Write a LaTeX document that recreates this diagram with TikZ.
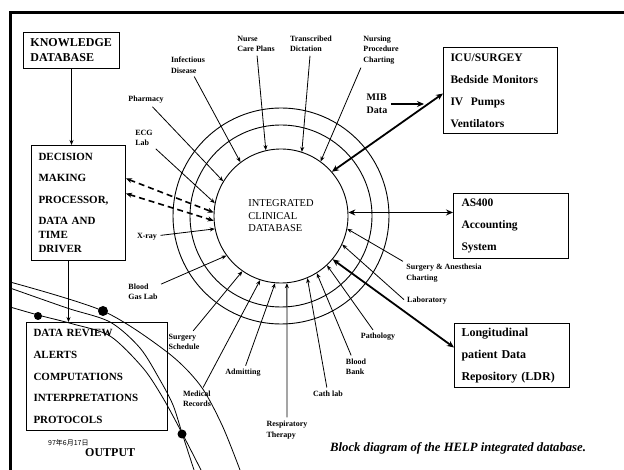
\documentclass[tikz,border=0pt]{standalone}
\usepackage{fontspec}
\setmainfont{Liberation Serif}
\newfontfamily\cjk{Noto Sans CJK SC}
\usetikzlibrary{arrows.meta,positioning,calc}

\begin{document}
\begin{tikzpicture}[
  x=1pt, y=-1pt,
  >={Stealth[length=5pt,width=4pt]},
  box/.style={draw, line width=1pt, anchor=north west, align=left, inner xsep=7pt, inner ysep=0pt,
              font=\fontsize{11.5}{22}\selectfont\bfseries},
  lbl/.style={align=left, inner sep=1.5pt, font=\fontsize{8}{10.5}\selectfont\bfseries},
  spoke/.style={->, line width=0.8pt, shorten <=2pt},
  bigarrow/.style={<->, line width=1.8pt, >={Stealth[length=7pt,width=6pt]}},
  dasharrow/.style={<->, line width=1.6pt, dash pattern=on 6pt off 4pt, >={Stealth[length=6pt,width=5pt]}},
  ring/.style={line width=0.9pt},
  globe/.style={line width=0.8pt}
]
  \useasboundingbox (0,0) rectangle (624,470);
  \draw[line width=3pt] (624,13) -- (10,13) -- (10,470);

  % boxes
  \node[box, font=\fontsize{12}{15}\selectfont\bfseries, text width=82pt, minimum height=36pt] (kb) at (23,32) {KNOWLEDGE\\DATABASE};
  \node[box, font=\fontsize{11}{14}\selectfont\bfseries, text width=80pt, minimum height=115pt] (dm) at (31,145)
    {DECISION\\[7.5pt]MAKING\\[7.5pt]PROCESSOR,\\[7.5pt]DATA AND\\TIME\\DRIVER};
  \node[box, font=\fontsize{11}{21.7}\selectfont\bfseries, text width=127pt, minimum height=108pt] (dr) at (26,322)
    {DATA REVIEW\\ALERTS\\COMPUTATIONS\\INTERPRETATIONS\\PROTOCOLS};
  \node[box, text width=100pt, minimum height=86pt] (icu) at (443,47) {ICU/SURGEY\\Bedside Monitors\\IV~~Pumps\\Ventilators};
  \node[box, inner xsep=8pt, text width=99pt, minimum height=65pt] (as) at (453,193) {AS400\\Accounting\\System};
  \node[box, font=\fontsize{12}{22}\selectfont\bfseries, text width=101pt, minimum height=64pt] (ldr) at (454,323)
    {Longitudinal\\patient Data\\Repository (LDR)};

  % central database and rings
  \node[circle, draw, line width=0.9pt, minimum size=134pt, inner sep=0pt, align=left,
        font=\fontsize{10.5}{12.5}\selectfont] (db) at (281,216) {INTEGRATED\\CLINICAL\\DATABASE};
  \draw[ring] (db.center) circle[radius=91pt];
  \draw[ring] (db.center) circle[radius=108pt];

  % sources around the ring
  \node[lbl] (inf) at (188,65) {Infectious\\Disease};
  \node[lbl] (phar) at (146,100) {Pharmacy};
  \node[lbl] (ecg) at (144,138) {ECG\\Lab};
  \node[lbl] (xray) at (147,237) {X-ray};
  \node[lbl] (bgas) at (143,292) {Blood\\Gas Lab};
  \node[lbl] (ssch) at (184,342) {Surgery\\Schedule};
  \node[lbl] (mrec) at (197,399) {Medical\\Records};
  \node[lbl] (adm) at (243,373) {Admitting};
  \node[lbl] (resp) at (287,430) {Respiratory\\Therapy};
  \node[lbl] (cath) at (328,394) {Cath lab};
  \node[lbl] (bbank) at (356,367) {Blood\\Bank};
  \node[lbl] (path) at (378,337) {Pathology};
  \node[lbl] (labo) at (427,301) {Laboratory};
  \node[lbl] (sach) at (444,273) {Surgery \& Anesthesia\\Charting};
  \node[lbl] (ncp) at (256,44) {Nurse\\Care Plans};
  \node[lbl] (tdic) at (311,44) {Transcribed\\Dictation};
  \node[lbl] (npc) at (381,50) {Nursing\\Procedure\\Charting};
  \node[lbl, font=\fontsize{10}{13}\selectfont\bfseries] (mib) at (377,104) {MIB\\Data};
  \coordinate (mibend) at (424,104);

  \draw[spoke] (inf) -- (db.127);
  \draw[spoke] (phar) -- (db.149);
  \draw[spoke] (ecg) -- (db.169);
  \draw[spoke] (xray) -- (db.191);
  \draw[spoke] (bgas) -- (db.216);
  \draw[spoke] (ssch) -- (db.235);
  \draw[spoke] (mrec) -- (db.252);
  \draw[spoke] (adm) -- (db.265);
  \draw[spoke] (resp) -- (db.275);
  \draw[spoke] (cath) -- (db.293);
  \draw[spoke] (bbank) -- (db.302.5);
  \draw[spoke] (path) -- (db.313);
  \draw[spoke] (labo.west) -- (db.335);
  \draw[spoke] (sach.north west) -- (db.349);
  \draw[spoke] (ncp) -- (db.103);
  \draw[spoke] (tdic) -- (db.72);
  \draw[spoke] (npc.south west) -- (db.54);
  \draw[->, line width=1.8pt, shorten <=2pt, >={Stealth[length=7pt,width=6pt]}] (mib) -- (mibend);

  % links to the boxes
  \draw[bigarrow] (db.41) -- ([yshift=-3pt]icu.west);
  \draw[bigarrow] (db.3) -- (db.3 -| as.west);
  \draw[bigarrow] (db.320) -- ([yshift=8pt]ldr.west);
  \draw[dasharrow] ([yshift=24.5pt]dm.east) -- (db.177);
  \draw[dasharrow] ([yshift=9.5pt]dm.east) -- (db.184);
  \draw[->, line width=0.8pt] (kb.south) -- (kb.south |- dm.north);
  \draw[->, line width=0.8pt] ([xshift=-10pt]dm.south) -- ([xshift=-10pt]dm.south |- dr.north);

  % output arcs
  \draw[globe] plot[smooth] coordinates {(10,282) (103,311) (167,352) (200,385) (222,425) (240,470)};
  \draw[globe] plot[smooth] coordinates {(10,288) (67,308) (110,322) (140,348) (160,380) (173,405) (182,433) (194,470)};
  \draw[globe] plot[smooth] coordinates {(10,307) (38,315) (73,324) (110,336) (143,368) (163,398) (182,433) (201,470)};
  \fill (103,311) circle[radius=5pt];
  \fill (38,316) circle[radius=4pt];
  \fill (182,434) circle[radius=4.5pt];

  \node[font=\cjk\fontsize{7}{8}\selectfont, anchor=west, inner sep=0pt] (date) at (48,443) {97年6月17日};
  \node[font=\fontsize{12}{14}\selectfont\bfseries, anchor=west, inner sep=0pt] (out) at (85,453) {OUTPUT};
  \node[font=\fontsize{12.7}{14}\selectfont\bfseries\itshape, anchor=west, inner sep=0pt] (cap) at (330,448)
    {Block diagram of the HELP integrated database.};
\end{tikzpicture}
\end{document}
